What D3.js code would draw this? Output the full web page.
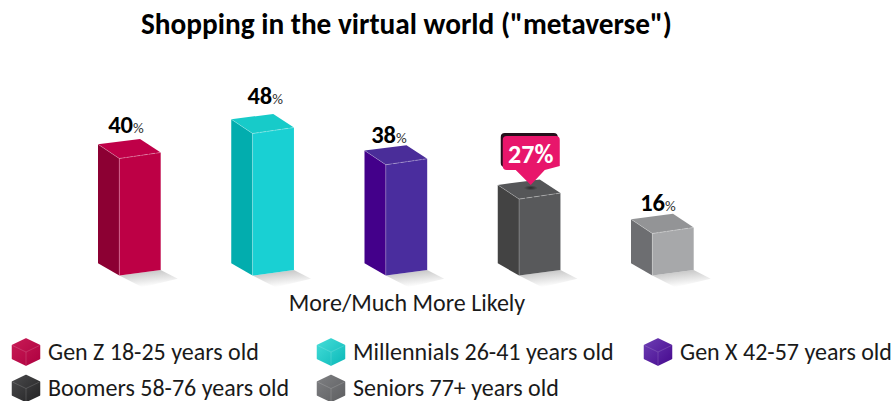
<!DOCTYPE html>
<html>
<head>
<meta charset="utf-8">
<script src="https://cdn.jsdelivr.net/npm/d3@7/dist/d3.min.js"></script>
<style>
html,body{margin:0;padding:0;background:#fff;overflow:hidden}
text{font-family:Carlito,Calibri,Lato,sans-serif}
</style>
</head>
<body>
<svg id="chart" width="896" height="401"></svg>
<script>
const title = 'Shopping in the virtual world ("metaverse")';
const axisLabel = "More/Much More Likely";
const categories = ["Gen Z 18-25 years old","Millennials 26-41 years old","Gen X 42-57 years old","Boomers 58-76 years old","Seniors 77+ years old"];
const values = [40,48,38,27,16];
const frontColors = ["#BD0045","#19D0D3","#4A2D9E","#58595B","#A7A8AA"];
const sideColors  = ["#8C0033","#02ADAE","#43008A","#434343","#6D6E71"];
const topColors   = ["#BF0048","#17CBC9","#4A2D99","#555658","#939496"];
const legendLight = ["#C81B55","#45DDD8","#6C3DB3","#4A4A4C","#7E7F82"];
const legendDark  = ["#AE0040","#0BB9B9","#470A8F","#232324","#5E5F61"];
const highlightIndex = 3;

const svg = d3.select("#chart");
const defs = svg.append("defs");

const x = d3.scalePoint().domain(categories).range([98,631]);
// The value axis does not start at zero: the bars stand on a floor just under 2
const y = d3.scaleLinear().domain([1.9,48]).range([263.3,119.3]);

// Fixed cuboid projection: offsets from the back-left vertical edge
const W1 = 21.3, W2 = 62.7;
const face = pts => pts.map(p => p.join(",")).join(" ");

// Hand placement of the value labels above each bar
const labelShiftX = [28,34,24.5,0,27];
const labelLift   = [11.6,15.3,7.2,0,8.6];

const shadow = defs.append("linearGradient").attr("id","shadow")
  .attr("x1",0).attr("y1",0).attr("x2",0.35).attr("y2",1);
shadow.append("stop").attr("offset",0).attr("stop-color","#b9b9b9");
shadow.append("stop").attr("offset",1).attr("stop-color","#ffffff");

const dimple = defs.append("radialGradient").attr("id","dimple");
dimple.append("stop").attr("offset",0).attr("stop-color","#222").attr("stop-opacity",0.85);
dimple.append("stop").attr("offset",1).attr("stop-color","#222").attr("stop-opacity",0);

const bars = svg.append("g").selectAll("g").data(categories).join("g");

bars.each(function(c,i){
  const g = d3.select(this);
  const x0 = x(c), yb = y.range()[0], yt = y(values[i]);
  // Floor shadow
  g.append("polygon").attr("fill","url(#shadow)").attr("points",face([
    [x0+W1,yb+12.3],[x0+W2,yb+6.6],[x0+W2+17,yb+15.5],[x0+W1+23,yb+24]]));
  // Left face
  g.append("polygon").attr("fill",sideColors[i]).attr("points",face([
    [x0,yt],[x0+W1,yt+14.2],[x0+W1,yb+12.3],[x0,yb]]));
  // Front face
  g.append("polygon").attr("fill",frontColors[i]).attr("points",face([
    [x0+W1,yt+14.2],[x0+W2,yt+8.2],[x0+W2,yb+6.6],[x0+W1,yb+12.3]]));
  // Top face
  g.append("polygon").attr("fill",topColors[i]).attr("points",face([
    [x0,yt],[x0+42,yt-5.4],[x0+W2,yt+8.2],[x0+W1,yt+14.2]]));
  // Light edges between faces
  g.append("path").attr("fill","none").attr("stroke","#fff").attr("stroke-opacity",0.3).attr("stroke-width",0.8)
    .attr("d",`M${x0},${yt}L${x0+W1},${yt+14.2}L${x0+W1},${yb+12.3}`);
  g.append("path").attr("fill","none").attr("stroke","#fff").attr("stroke-opacity",0.4).attr("stroke-width",0.8)
    .attr("stroke-dasharray","6 1.5")
    .attr("d",`M${x0+W1},${yt+14.2}L${x0+W2},${yt+8.2}`);

  if(i !== highlightIndex){
    const lab = g.append("text").attr("x",x0+labelShiftX[i]).attr("y",yt-labelLift[i]).attr("text-anchor","middle").attr("fill","#000");
    lab.append("tspan").attr("font-size",24.5).attr("font-weight",700).text(values[i]);
    lab.append("tspan").attr("font-size",15).attr("fill","#333").text("%");
  }
});

// Callout on the highlighted bar
{
  const i = highlightIndex, c = categories[i];
  const cx = x(c)+33, top = y(values[i])-49;
  const bubble = (ox,oy) => `M${cx-28+ox},${top+oy+4}q0,-4 4,-4H${cx+25+ox}q4,0 4,4V${top+oy+30}L${cx+14+ox},${top+oy+34}L${cx+ox},${top+oy+49}L${cx-15+ox},${top+oy+34}L${cx-24+ox},${top+oy+34}q-4,0 -4,-4Z`;
  const g = svg.append("g");
  g.append("ellipse").attr("cx",cx).attr("cy",top+52).attr("rx",7).attr("ry",2.5).attr("fill","url(#dimple)");
  g.append("path").attr("d",bubble(-2,-3)).attr("fill","#24101b");
  g.append("path").attr("d",bubble(0,0)).attr("fill","#E8166B");
  g.append("text").attr("x",cx).attr("y",top+27).attr("text-anchor","middle")
    .attr("font-size",26).attr("font-weight",700).attr("fill","#fff").text(values[i]+"%");
}

svg.append("text").attr("x",406.5).attr("y",34).attr("text-anchor","middle")
  .attr("font-size",29.3).attr("font-weight",700).attr("fill","#000").text(title);
svg.append("text").attr("x",407).attr("y",311).attr("text-anchor","middle")
  .attr("font-size",24).attr("fill","#1a1a1a").text(axisLabel);

// Legend: three columns, two rows of small cubes
const colX = [26,331,658], rowY = [352,388.5];
const legend = svg.append("g").selectAll("g").data(categories).join("g")
  .attr("transform",(c,i)=>`translate(${colX[i%3]},${rowY[Math.floor(i/3)]})`);

legend.each(function(c,i){
  const g = d3.select(this);
  const grad = defs.append("linearGradient").attr("id","lg"+i).attr("x1",0).attr("y1",0).attr("x2",1).attr("y2",1);
  grad.append("stop").attr("offset",0).attr("stop-color",legendLight[i]);
  grad.append("stop").attr("offset",1).attr("stop-color",legendDark[i]);
  g.append("polygon").attr("fill",`url(#lg${i})`).attr("stroke",`url(#lg${i})`).attr("stroke-width",1.5).attr("stroke-linejoin","round")
    .attr("points",face([[0,-13],[13.5,-6.5],[13.5,6.5],[0,13],[-13.5,6.5],[-13.5,-6.5]]));
  g.append("path").attr("fill","none").attr("stroke","#fff").attr("stroke-opacity",0.22).attr("stroke-width",0.7)
    .attr("d","M-13.5,-6.5L0,0L13.5,-6.5M0,0V13");
  g.append("text").attr("x",22).attr("y",7.5).attr("font-size",24).attr("fill","#1a1a1a").text(c);
});
</script>
</body>
</html>
